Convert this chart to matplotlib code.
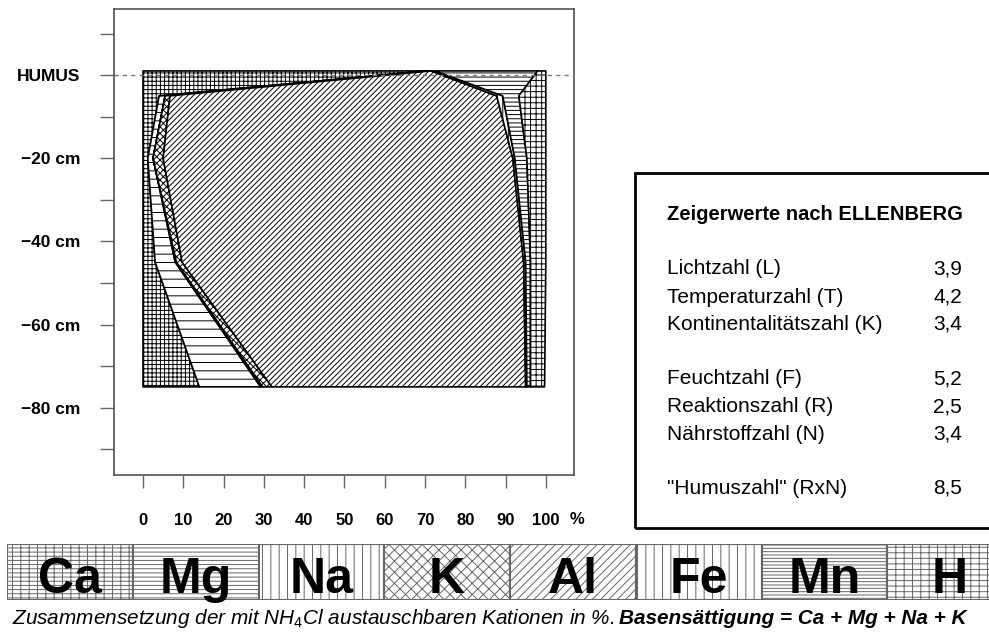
#Kationenbelag im Bodenprofil mit Zeigerwerten nach Ellenberg
import matplotlib
matplotlib.use('Agg')
import matplotlib.pyplot as plt
from matplotlib.patches import Rectangle
import numpy as np

#Daten: Tiefe (cm) und Anteile der austauschbaren Kationen (%)
tiefe = [1, -5, -20, -45, -75]
ca = [70.5, 4.0, 1.2, 3.0, 14.0]
mg = [0.5, 1.5, 1.3, 5.0, 15.2]
na = [0.0, 0.0, 0.0, 0.3, 0.5]
k = [0.5, 1.2, 2.5, 1.4, 2.3]
al = [0.0, 81.1, 86.8, 84.8, 63.0]
fe = [1.0, 1.5, 0.5, 0.5, 0.3]
mn = [25.5, 4.0, 3.0, 1.2, 0.9]
h = [2.0, 6.7, 4.7, 3.8, 3.5]

kationen = ['Ca', 'Mg', 'Na', 'K', 'Al', 'Fe', 'Mn', 'H']
y_ticks = [0, -20, -40, -60, -80]
y_labels = ['HUMUS', '\u221220 cm', '\u221240 cm', '\u221260 cm', '\u221280 cm']
y_minor = [10, -10, -30, -50, -70, -90]
x_ticks = [0, 10, 20, 30, 40, 50, 60, 70, 80, 90, 100]

zeiger_namen = ['Lichtzahl (L)', 'Temperaturzahl (T)', 'Kontinentalitätszahl (K)',
                'Feuchtzahl (F)', 'Reaktionszahl (R)', 'Nährstoffzahl (N)',
                '"Humuszahl" (RxN)']
zeiger_werte = ['3,9', '4,2', '3,4', '5,2', '2,5', '3,4', '8,5']

plt.rcParams['font.family'] = ['Liberation Sans', 'DejaVu Sans']
plt.rcParams['mathtext.fontset'] = 'custom'
plt.rcParams['mathtext.rm'] = 'Liberation Sans'
plt.rcParams['mathtext.it'] = 'Liberation Sans:italic'
plt.rcParams['hatch.linewidth'] = 0.7
plt.rcParams['hatch.color'] = '#222222'

W, H = 989, 633
fig = plt.figure(figsize=(W / 100, H / 100), dpi=100)

#Hauptdiagramm
ax = fig.add_axes([114 / W, 1 - 475 / H, (574 - 114) / W, (475 - 9) / H])
werte = [ca, mg, na, k, al, fe, mn, h]
muster = ['++++', '--', '|||', 'xxxxx', '//////', '|||', '----', '+++']
links = np.zeros(len(tiefe))
for w, m in zip(werte, muster):
    rechts = links + np.array(w)
    ax.fill_betweenx(tiefe, links, rechts, facecolor='white', edgecolor='black',
                     hatch=m, linewidth=1.2, zorder=2)
    links = rechts

ax.axhline(0, color='#777777', linestyle=(0, (3, 3)), linewidth=1, zorder=5)
ax.set_xlim(-7.2, 107.0)
ax.set_ylim(-96.2, 15.9)
ax.set_xticks(x_ticks)
ax.set_xticklabels([str(x) for x in x_ticks], fontsize=12, fontweight='bold')
ax.set_yticks(y_ticks)
ax.set_yticklabels(y_labels, fontsize=12.5, fontweight='bold')
ax.set_yticks(y_minor, minor=True)
ax.tick_params(axis='x', direction='out', length=9.5, width=1, color='#666666', pad=18)
ax.tick_params(axis='y', which='both', direction='out', length=10, width=1,
               color='#666666', pad=14)
for s in ax.spines.values():
    s.set_color('#444444')
    s.set_linewidth(1.1)
fig.text(577 / W, 1 - 520 / H, '%', fontsize=12, fontweight='bold', ha='center', va='center')

#Legende der Kationen
ax2 = fig.add_axes([7 / W, 1 - 600 / H, 1006 / W, 56 / H])
muster_leg = ['----||', '----', '||', 'xxx', '////', '||', '-----', '---||']
for i, (name, m) in enumerate(zip(kationen, muster_leg)):
    ax2.bar(i + 0.5, 1, width=1, bottom=0, facecolor='white', edgecolor='#666666',
            hatch=m, linewidth=1.5)
    ax2.text(i + 0.5, 0.125, name, fontsize=36, fontweight='bold', ha='center',
             va='baseline', zorder=5)
ax2.set_xlim(0, 8)
ax2.set_ylim(0, 1)
ax2.axis('off')

#Zeigerwerte nach Ellenberg
fig.patches.append(Rectangle((635 / W, 1 - 528 / H), 0.5, (528 - 173) / H, fill=False,
                             edgecolor='black', linewidth=2, transform=fig.transFigure))
fig.text(667 / W, 1 - 215 / H, 'Zeigerwerte nach ELLENBERG', fontsize=14.5,
         fontweight='bold', ha='left', va='center')
zeiger_y = [269, 297, 324, 379, 407, 434, 488]
for n, v, y in zip(zeiger_namen, zeiger_werte, zeiger_y):
    fig.text(667 / W, 1 - y / H, n, fontsize=15, ha='left', va='center')
    fig.text(962 / W, 1 - y / H, v, fontsize=15, ha='right', va='center')

#Bildunterschrift
t1 = fig.text(12 / W, 1 - 618 / H,
              'Zusammensetzung der mit NH$_4$Cl austauschbaren Kationen in %.',
              fontsize=13, style='italic', ha='left', va='center')
t2 = fig.text(0, 1 - 618 / H, 'Basensättigung = Ca + Mg + Na + K', fontsize=13,
              style='italic', fontweight='bold', ha='left', va='center')
for _ in range(2):
    fig.canvas.draw()
    r = fig.canvas.get_renderer()
    e1 = t1.get_window_extent(r)
    t2.set_x((e1.x1 + 0.3 * t1.get_fontsize()) / W)
    fig.canvas.draw()
    e2 = t2.get_window_extent(r)
    fs = t1.get_fontsize() * (965 - 12) / (e2.x1 - e1.x0)
    t1.set_fontsize(fs)
    t2.set_fontsize(fs)
fig.canvas.draw()
e1 = t1.get_window_extent(fig.canvas.get_renderer())
t2.set_x((e1.x1 + 0.3 * t1.get_fontsize()) / W)

fig.savefig('out.png', dpi=100)
